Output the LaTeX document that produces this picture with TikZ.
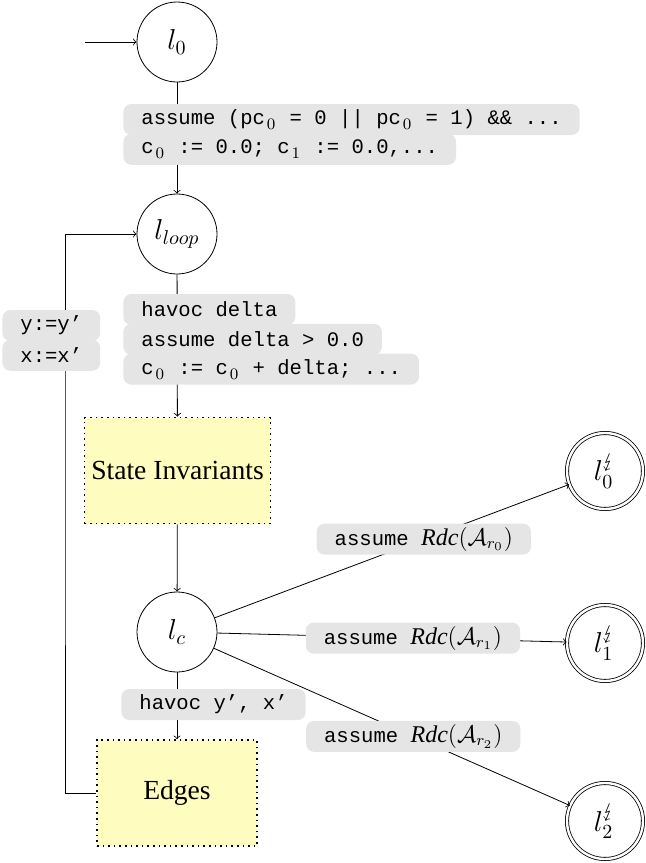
\documentclass[tikz,border=0pt]{standalone}
\usepackage{amsmath}
\usepackage{amssymb}
\usepackage{stmaryrd}
\usepackage{fontspec}
\setmainfont{Liberation Serif}
\setmonofont{Liberation Mono}
\usetikzlibrary{positioning}
% subscript that takes one column of the typewriter font
\newcommand{\colsub}[1]{\makebox[0.6em][c]{\raisebox{-0.45ex}{\fontsize{8}{8}\selectfont$#1$}}}
\newcommand{\rdc}[1]{{\large$\mathit{Rdc}(\mathcal{A}_{r_{#1}})$}}

\begin{document}
\begin{tikzpicture}[x=0.5pt,y=0.5pt,yscale=-1,xscale=1,
  loc/.style={draw,circle,minimum size=40pt,inner sep=0pt,font=\Large},
  errloc/.style={loc,double,double distance=1.2pt,minimum size=38pt},
  stmt/.style={fill=gray!20,rounded corners=4pt,inner xsep=9pt,inner ysep=0pt,minimum height=15.5pt,font=\fontsize{10.3}{12}\ttfamily},
  block/.style={draw,dotted,thick,fill=yellow!25,minimum width=80pt,minimum height=53pt,font=\fontsize{13.8}{16}\selectfont}]
\useasboundingbox (0,0) rectangle (645,863);
%Shape: Circle [l0]
\node[loc] (l0) at (177,42) {$l_0$};
\coordinate (init) at (85,42);
\draw[->] (init) -- (l0);
%Shape: Circle [lloop]
\node[loc] (lloop) at (177,234) {$l_{loop}$};
\draw[->] (l0) -- (lloop);
% Text Node
\node[stmt,anchor=west] (s1) at (123,119.5) {assume (pc\colsub0 = 0 || pc\colsub0 = 1) \&\& ...};
\node[stmt,anchor=north west] (s2) at ([yshift=-1pt]s1.south west) {c\colsub0 := 0.0; c\colsub1 := 0.0,...};
%Shape: Rectangle [inv]
\node[block] (inv) at (177.5,470.5) {State Invariants};
\draw[->] (lloop) -- (inv);
% Text Node
\node[stmt,anchor=west] (s3) at (123,309.5) {havoc delta};
\node[stmt,anchor=north west] (s4) at ([yshift=-1pt]s3.south west) {assume delta > 0.0};
\node[stmt,anchor=north west] (s5) at ([yshift=-1pt]s4.south west) {c\colsub0 := c\colsub0 + delta; ...};
%Shape: Circle [lc]
\node[loc] (lc) at (177,632) {$l_c$};
\draw[->] (inv) -- (lc);
%Shape: Rectangle [edges]
\node[block] (edges) at (177,793) {Edges};
\draw[->] (lc) -- (edges);
% Text Node
\node[stmt,anchor=west] (s6) at (121,704.5) {havoc y’, x’};
%Straight Lines [back to lloop]
\coordinate (back) at (65,500);
\draw[->] (edges.west) -| (back) |- (lloop);
% Text Node
\node[stmt,anchor=west] (s7) at (2,325.5) {y:=y’};
\node[stmt,anchor=north west] (s8) at ([yshift=-1pt]s7.south west) {x:=x’};
%Shape: Circle [error locations]
\node[errloc] (err0) at (605,471) {$l_0^{\lightning}$};
\node[errloc] (err1) at (605,643) {$l_1^{\lightning}$};
\node[errloc] (err2) at (605,821) {$l_2^{\lightning}$};
\draw[->] (lc) -- node[stmt,pos=0.59] {assume \rdc0} (err0);
\draw[->] (lc) -- node[stmt,pos=0.56] {assume \rdc1} (err1);
\draw[->] (lc) -- node[stmt,pos=0.56] {assume \rdc2} (err2);
\end{tikzpicture}
\end{document}
